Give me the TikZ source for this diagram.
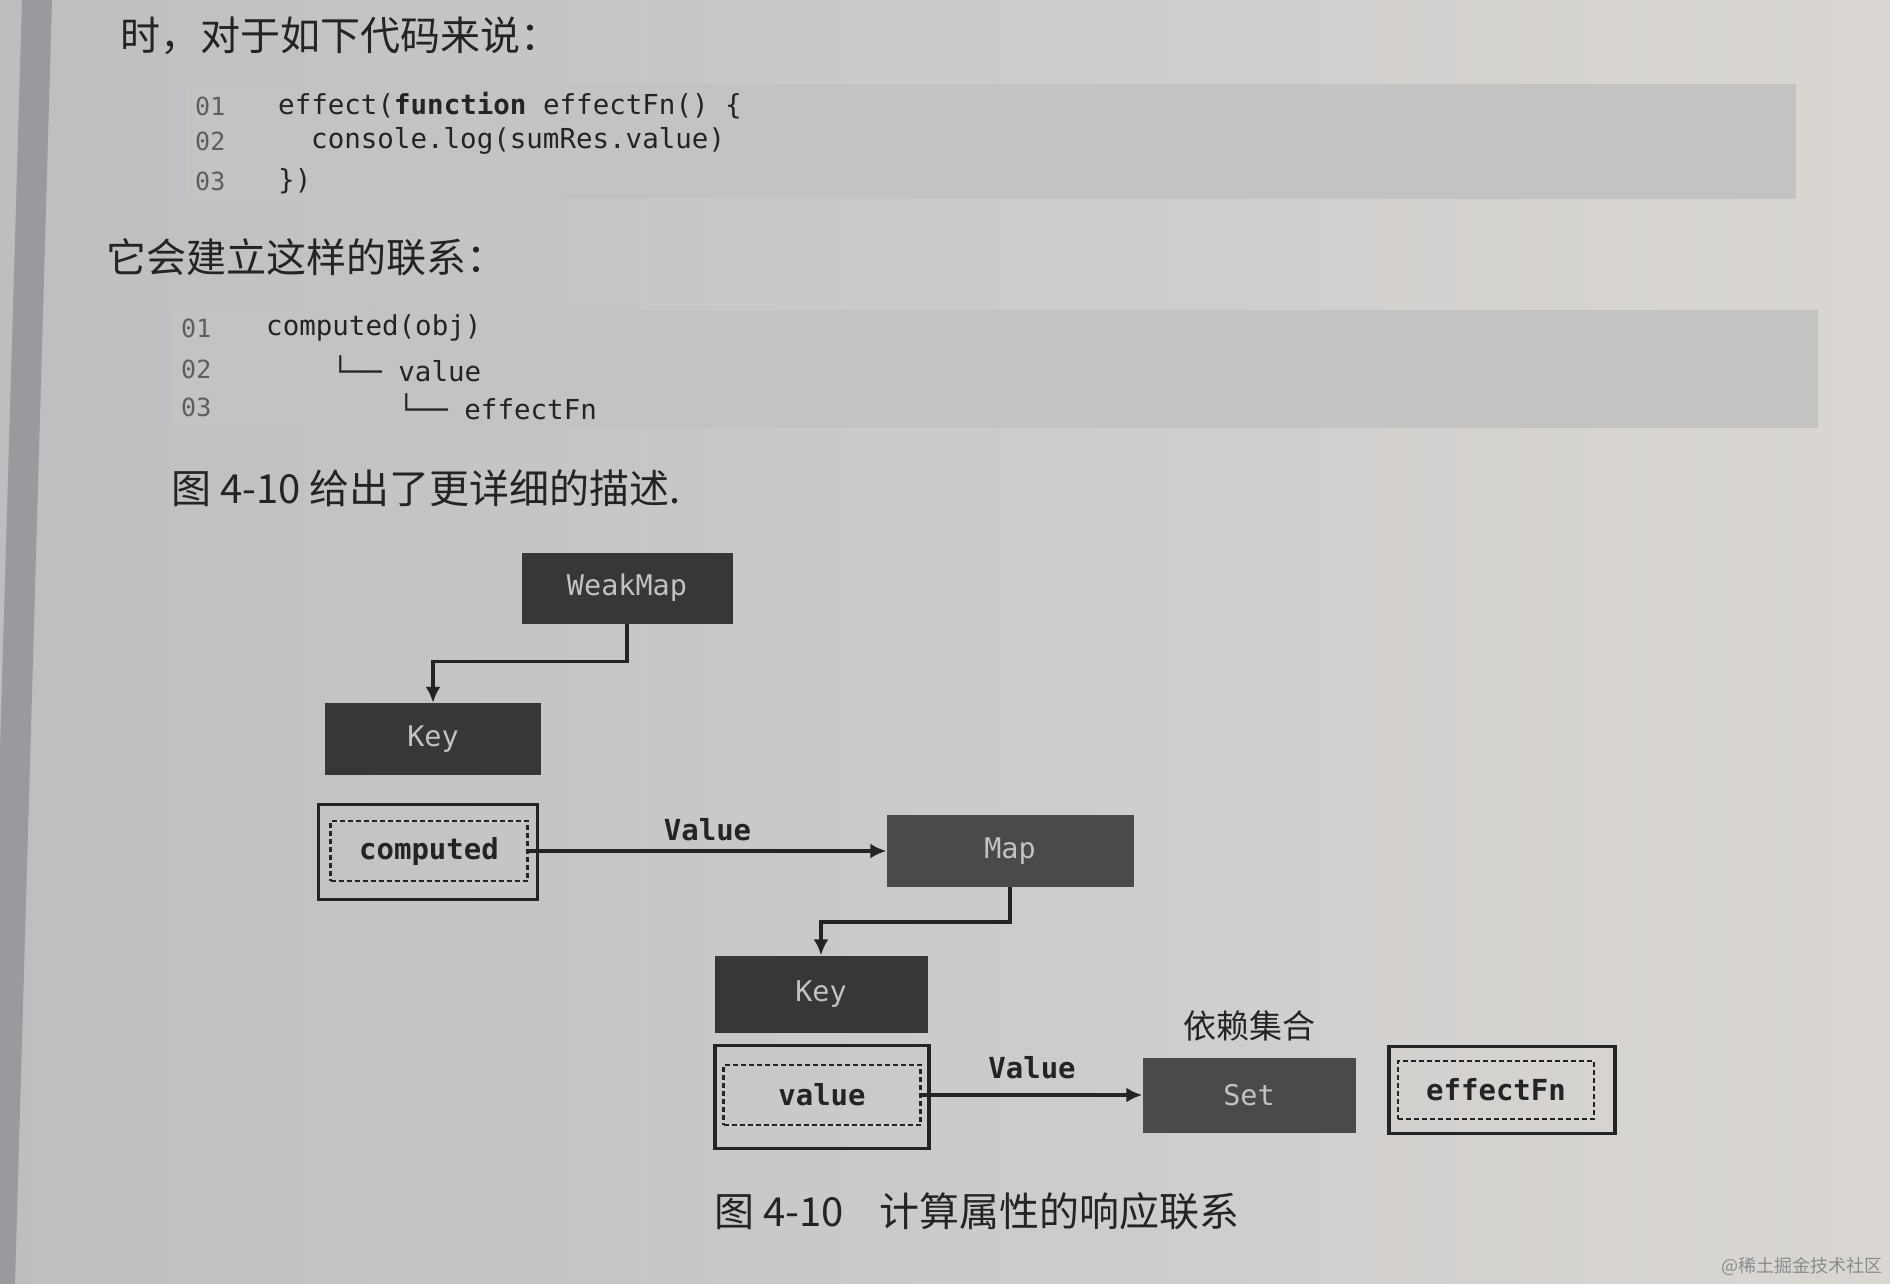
\documentclass[tikz,border=0pt]{standalone}
\usepackage{fontspec}
\setmonofont{DejaVu Sans Mono}
\newfontfamily\cjk{Noto Sans CJK SC}
\usetikzlibrary{arrows.meta,positioning}
\definecolor{Page}{HTML}{DAD7D3}
\definecolor{PageDark}{HTML}{BEBEC1}
\definecolor{Strip}{HTML}{9A9A9E}
\definecolor{Code}{HTML}{C4C3C2}
\definecolor{Box}{HTML}{373737}
\definecolor{BoxLight}{HTML}{4A4A4A}
\definecolor{BoxText}{HTML}{C2C2C2}
\definecolor{Ink}{HTML}{242424}
\definecolor{Num}{HTML}{5E5E5E}

\begin{document}
\begin{tikzpicture}[x=1pt,y=-1pt,
    every node/.style={inner sep=0pt},
    cn/.style={font=\cjk\fontsize{40}{44}\selectfont,text=Ink,anchor=west},
    code/.style={font=\ttfamily\fontsize{27.5}{32}\selectfont,text=Ink,anchor=west},
    num/.style={font=\ttfamily\fontsize{25}{30}\selectfont,text=Num,anchor=west},
    dark/.style={fill=Box,text=BoxText,font=\ttfamily\fontsize{28.5}{32}\selectfont},
    outer/.style={draw=Ink,line width=3.5pt},
    inner/.style={draw=Ink,line width=2.5pt,dash pattern=on 5pt off 3pt,
      text=Ink,font=\ttfamily\bfseries\fontsize{29}{32}\selectfont},
    lbl/.style={text=Ink,font=\ttfamily\bfseries\fontsize{29}{32}\selectfont},
    link/.style={-{Latex[length=16pt,width=15pt]},line width=3.5pt,draw=Ink},
  ]
  \useasboundingbox (0,0) rectangle (1890,1284);
  % page
  \shade[left color=PageDark,right color=Page] (0,0) rectangle (1890,1284);
  \fill[Strip] (22,0) -- (52,0) -- (15,1284) -- (0,1284) -- (0,750) -- cycle;

  % text above the figure
  \node[cn] (intro) at (120,36) {时，对于如下代码来说：};
  \fill[Code] (187,84) rectangle (1796,199);
  \foreach \n/\y in {01/106,02/141,03/181}
    \node[num] (na\n) at (195,\y) {\n};
  \node[code] (ca1) at (278,106) {effect(\textbf{function} effectFn() \{};
  \node[code] (ca2) at (311,141) {console.log(sumRes.value)};
  \node[code] (ca3) at (278,181) {\})};

  \node[cn] (links) at (106,257) {它会建立这样的联系：};
  \fill[Code] (172,310) rectangle (1818,428);
  \foreach \n/\y in {01/328,02/369,03/407}
    \node[num] (nb\n) at (181,\y) {\n};
  \node[code] (cb1) at (266,328) {computed(obj)};
  \node[code] (cb2) at (332,369) {└── value};
  \node[code] (cb3) at (398,407) {└── effectFn};

  \node[cn] (ref) at (171,488) {图 4-10 给出了更详细的描述.};

  % figure
  \node[dark,minimum width=211pt,minimum height=71pt] (weakmap) at (627,588) {WeakMap};
  \node[dark,minimum width=216pt,minimum height=72pt] (key1) at (433,739) {Key};
  \node[outer,minimum width=219pt,minimum height=95pt] (compbox) at (428,852) {};
  \node[inner,minimum width=197pt,minimum height=60pt] (computed) at (429,851) {computed};
  \node[dark,fill=BoxLight,minimum width=247pt,minimum height=72pt] (map) at (1010,851) {Map};

  \node[dark,minimum width=213pt,minimum height=77pt] (key2) at (821,994) {Key};
  \node[outer,minimum width=214pt,minimum height=103pt] (valbox) at (822,1097) {};
  \node[inner,minimum width=197pt,minimum height=60pt] (value) at (822,1095) {value};
  \node[dark,fill=BoxLight,minimum width=213pt,minimum height=75pt] (set) at (1249,1095) {Set};
  \node[font=\cjk\fontsize{33}{36}\selectfont,text=Ink,above=16pt of set] (dep) {依赖集合};
  \node[outer,minimum width=226pt,minimum height=87pt] (effbox) at (1502,1090) {};
  \node[inner,minimum width=196pt,minimum height=58pt] (effectfn) at (1496,1090) {effectFn};

  \draw[link] (weakmap.south) -- ++(0,38) -| (key1.north);
  \draw[link] (computed.east) -- node[lbl,above=8pt] (v1) {Value} (map.west);
  \draw[link] (map.south) -- ++(0,35) -| (key2.north);
  \draw[link] (value.east) -- node[lbl,above=14pt] (v2) {Value} (set.west);

  \node[cn] (caption) at (714,1211) {图 4-10\hspace{36pt}计算属性的响应联系};
  \node[font=\cjk\fontsize{18}{20}\selectfont,text=black!45,anchor=east] (mark) at (1883,1266) {@稀土掘金技术社区};
\end{tikzpicture}
\end{document}
